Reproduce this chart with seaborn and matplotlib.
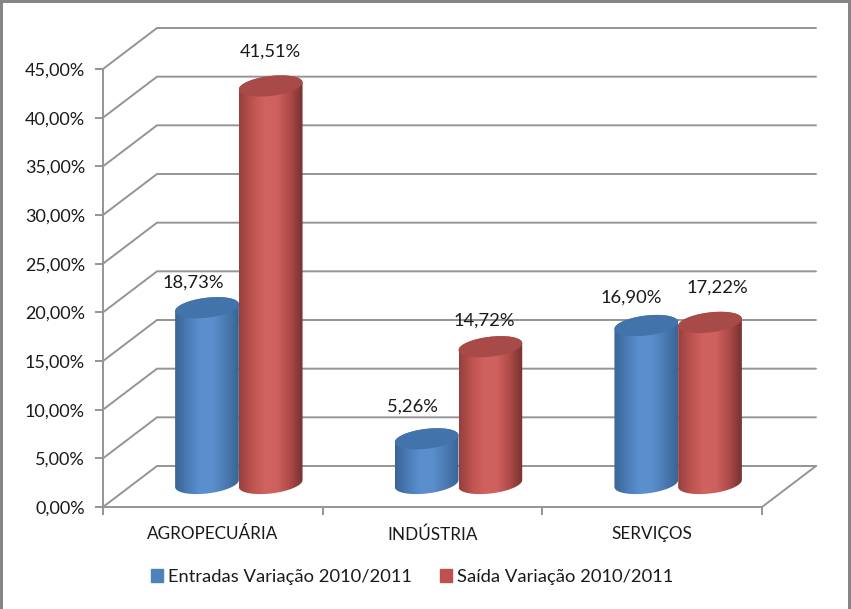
import numpy as np
import pandas as pd
import matplotlib
matplotlib.use("Agg")
import matplotlib.pyplot as plt
import seaborn as sns
from matplotlib.colors import LinearSegmentedColormap
from matplotlib.patches import Patch, PathPatch, Rectangle
from matplotlib.path import Path

# Data
categories = ["AGROPECUÁRIA", "INDÚSTRIA", "SERVIÇOS"]
entradas = [18.73, 5.26, 16.90]
saida = [41.51, 14.72, 17.22]
series_names = ["Entradas Variação 2010/2011", "Saída Variação 2010/2011"]
y_ticks = [0, 5, 10, 15, 20, 25, 30, 35, 40, 45]

# Layout, in pixels of the 851x609 picture
W, H = 851, 609
LEFT, RIGHT, BASE, TOP = 103, 762, 507, 69
PX_PER_UNIT = (BASE - TOP) / 45
BACK_DX, BACK_DY = 54, 41
BAR_DX, BAR_DY = 26, 17
LABEL_OFFSETS = [(-14, 25), (-14, 32), (-15, 28), (0, 34), (-6, 26), (7, 35)]

GRID = "#949494"
TEXT = "#1a1a1a"
BLUE = "#4f81bd"
RED = "#c0504d"
blue_grad = LinearSegmentedColormap.from_list(
    "blue", ["#3a6494", "#4a7cb6", "#5b90d0", "#5a8ecb", "#4a7ab2", "#3a6495"])
red_grad = LinearSegmentedColormap.from_list(
    "red", ["#96403e", "#bd5350", "#d06260", "#cf605e", "#ad4a48", "#763230"])
LID = {0: "#4273ab", 1: "#a84a48"}

sns.set_theme(style="white")
plt.rcParams["font.family"] = ["Lato", "DejaVu Sans"]

fig = plt.figure(figsize=(W / 100, H / 100), dpi=100, facecolor="white")


def axes_box(dx=0, dy=0):
    return [(LEFT + dx) / W, (H - BASE + dy) / H, (RIGHT - LEFT) / W, (BASE - TOP) / H]


ax = fig.add_axes(axes_box())
ax.set_xlim(-0.5, 2.5)
ax.set_ylim(0, 45)
ax.patch.set_alpha(0)

# Walls and floor of the 3D box
x_unit = (RIGHT - LEFT) / 3
back_x = BACK_DX / x_unit
back_y = BACK_DY / PX_PER_UNIT
for v in y_ticks:
    ax.plot([-0.5, -0.5 + back_x, 2.5 + back_x], [v, v + back_y, v + back_y],
            color=GRID, lw=1.4, clip_on=False, zorder=1, solid_joinstyle="miter")
ax.plot([2.5, 2.5 + back_x], [0, back_y], color=GRID, lw=1.4, clip_on=False, zorder=1)

sns.despine(ax=ax, top=True, right=True)
for side in ["left", "bottom"]:
    ax.spines[side].set_color(GRID)
    ax.spines[side].set_linewidth(1.4)
ax.set_yticks(y_ticks)
ax.set_yticklabels([f"{v:.2f}".replace(".", ",") + "%" for v in y_ticks])
ax.set_xticks([-0.5, 0.5, 1.5, 2.5])
ax.set_xticklabels([])
ax.set_xticks([0, 1, 2], labels=categories, minor=True)
ax.tick_params(axis="both", which="major", length=6, width=1.4, color=GRID,
               labelsize=13, labelcolor=TEXT, pad=7, left=True, bottom=True)
ax.tick_params(axis="x", which="minor", length=0, labelsize=12.3, labelcolor=TEXT, pad=14)

# Bars live on a second axes, shifted half way into the box
bar_ax = fig.add_axes(axes_box(BAR_DX, BAR_DY))
bar_ax.set_axis_off()
frame = pd.DataFrame({
    "categoria": categories * 2,
    "serie": [series_names[0]] * 3 + [series_names[1]] * 3,
    "valor": entradas + saida,
})
sns.barplot(data=frame, x="categoria", y="valor", hue="serie", order=categories,
            hue_order=series_names, palette=[BLUE, RED], width=0.58, gap=0,
            legend=False, ax=bar_ax)

half_h = 10 / PX_PER_UNIT
tilt = 3.5 / PX_PER_UNIT
base_lift = 6.5 / PX_PER_UNIT
t_low = np.linspace(np.pi, 2 * np.pi, 50)
t_up = np.linspace(0, np.pi, 50)
t_all = np.linspace(0, 2 * np.pi, 100)


def rim(cx, a, yc, t):
    return np.column_stack([cx + a * np.cos(t), yc + half_h * np.sin(t) + tilt * np.cos(t)])


gradient = np.linspace(0, 1, 128).reshape(1, -1)
bars = [p for p in bar_ax.patches if p.get_height() > 0]
for i, bar in enumerate(bars):
    hue_i = i // 3
    x0, w, h = bar.get_x(), bar.get_width(), bar.get_height()
    cx, a = x0 + w / 2, w / 2
    zo = 3 + hue_i + i * 0.01
    body = np.vstack([rim(cx, a, base_lift, t_low), rim(cx, a, h, t_up)])
    clip = PathPatch(Path(np.vstack([body, body[:1]])), transform=bar_ax.transData,
                     fc="none", ec="none")
    bar_ax.add_patch(clip)
    clip.set_clip_on(False)
    # the cylinder replaces the flat bar; it reaches a little below the value axis
    bar.set_visible(False)
    img = bar_ax.imshow(gradient, extent=[x0, x0 + w, -3, h + 3], aspect="auto",
                        cmap=blue_grad if hue_i == 0 else red_grad, zorder=zo + 0.1)
    img.set_clip_box(fig.bbox)
    img.set_clip_path(clip)
    bar_ax.add_patch(PathPatch(Path(rim(cx, a, h, t_all)), fc=LID[hue_i], ec="none",
                               zorder=zo + 0.2, clip_on=False))
    off = LABEL_OFFSETS[i]
    bar_ax.annotate(f"{h:.2f}".replace(".", ",") + "%", (cx, h), xytext=off,
                    textcoords="offset pixels", ha="center", va="center",
                    fontsize=13.2, color=TEXT, zorder=10, annotation_clip=False)
bar_ax.set_xlim(-0.5, 2.5)
bar_ax.set_ylim(0, 45)

handles = [Patch(color=BLUE, label=series_names[0]), Patch(color=RED, label=series_names[1])]
fig.legend(handles=handles, loc="center", bbox_to_anchor=(412 / W, 1 - 577 / H), ncol=2,
           frameon=False, fontsize=13.2, handlelength=0.65, handleheight=0.65,
           handletextpad=0.27, columnspacing=1.55, labelcolor=TEXT)

# Grey frame on left, top and right edges
for x0_, y0_, w_, h_ in [(0, 0, 3, H), (0, H - 3, W, 3), (W - 3, 0, 3, H)]:
    fig.add_artist(Rectangle((x0_ / W, y0_ / H), w_ / W, h_ / H, transform=fig.transFigure,
                             fc="#858585", ec="none"))

fig.savefig("out.png", dpi=100, facecolor="white")
